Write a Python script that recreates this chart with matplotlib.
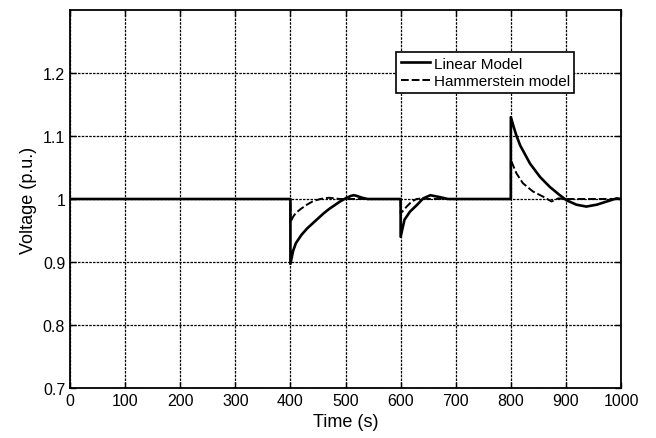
import matplotlib
matplotlib.use("Agg")
import matplotlib.pyplot as plt

plt.rcParams['font.family'] = ['Liberation Sans', 'DejaVu Sans']

# Linear model response (time in s, voltage in p.u.)
t_lin = [0, 400, 400, 405, 410, 420, 430, 440, 450, 460, 470, 480, 490, 500,
         510, 515, 520, 530, 540,
         600, 600, 607, 617, 629, 641, 654, 671, 686,
         800, 800, 805, 810, 817, 835, 853, 871, 889, 901, 919, 937, 956, 974,
         992, 1000]
v_lin = [1.0, 1.0, 0.897, 0.918, 0.930, 0.943, 0.953, 0.961, 0.969, 0.977,
         0.984, 0.990, 0.996, 1.001, 1.005, 1.006, 1.005, 1.002, 1.0,
         1.0, 0.940, 0.967, 0.980, 0.990, 1.001, 1.006, 1.003, 1.0,
         1.0, 1.130, 1.115, 1.101, 1.085, 1.056, 1.035, 1.019, 1.006, 0.998,
         0.991, 0.988, 0.991, 0.996, 1.001, 1.0]

# Hammerstein model response
t_ham = [0, 400, 400, 405, 410, 420, 430, 440, 450, 460, 470, 480, 490,
         600, 600, 611, 620, 629, 640, 650,
         800, 800, 810, 822, 840, 858, 874, 886, 900, 1000]
v_ham = [1.0, 1.0, 0.963, 0.972, 0.978, 0.985, 0.991, 0.996, 0.999, 1.001,
         1.002, 1.001, 1.0,
         1.0, 0.977, 0.988, 0.996, 1.0, 1.001, 1.0,
         1.0, 1.062, 1.041, 1.025, 1.012, 1.004, 0.996, 1.001, 1.0, 1.0]

x_ticks = [0, 100, 200, 300, 400, 500, 600, 700, 800, 900, 1000]
y_ticks = [0.7, 0.8, 0.9, 1.0, 1.1, 1.2]
y_tick_labels = ['0.7', '0.8', '0.9', '1', '1.1', '1.2']

fig = plt.figure(figsize=(6.56, 4.39), dpi=100)
ax = fig.add_axes([0.1067, 0.1139, 0.84, 0.861])

ax.plot(t_lin, v_lin, color='black', linewidth=1.9, linestyle='-', label='Linear Model')
ax.plot(t_ham, v_ham, color='black', linewidth=1.4, linestyle=(0, (4, 1.5)), label='Hammerstein model')

ax.set_xlim(0, 1000)
ax.set_ylim(0.7, 1.3)
ax.set_xticks(x_ticks)
ax.set_xticklabels([str(x) for x in x_ticks])
ax.set_yticks(y_ticks)
ax.set_yticklabels(y_tick_labels)

ax.grid(True, color='black', linestyle=(0, (2, 1)), linewidth=0.9)
ax.tick_params(direction='in', top=True, right=True, labelsize=11.5, length=4, width=1)
for s in ax.spines.values():
    s.set_linewidth(1.3)

ax.set_xlabel('Time (s)', fontsize=13)
ax.set_ylabel('Voltage (p.u.)', fontsize=13)

leg = ax.legend(loc='upper left', bbox_to_anchor=(0.592, 0.889), fontsize=11,
                frameon=True, fancybox=False, edgecolor='black', framealpha=1,
                handlelength=1.9, handletextpad=0.25, borderpad=0.3,
                labelspacing=0.25, borderaxespad=0)
leg.get_frame().set_linewidth(1.2)

fig.savefig('out.png', dpi=100)
